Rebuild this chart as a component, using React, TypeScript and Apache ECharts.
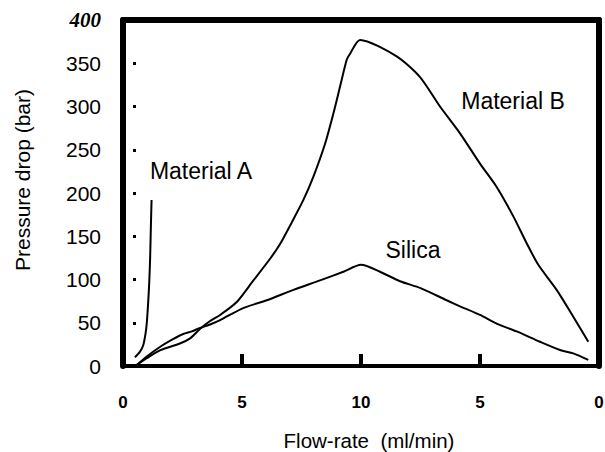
import React, { useEffect, useRef } from "react";
import * as echarts from "echarts";

const xTickValues = [0, 5, 10, 15, 20];
const xTickLabels = ["0", "5", "10", "5", "0"];
const xInnerTicks = [5, 10, 15];
const yTickLabels = ["0", "50", "100", "150", "200", "250", "300", "350", "400"];
const yInnerTicks = [50, 100, 150, 200, 250, 300, 350];

const materialA: [number, number][] = [
  [0.5, 10], [0.7, 16], [0.85, 24], [0.95, 38], [1.0, 50], [1.05, 70],
  [1.1, 95], [1.14, 125], [1.17, 160], [1.2, 192],
];

const materialB: [number, number][] = [
  [0.57, 1], [1.0, 9], [1.55, 18], [2.39, 26], [2.82, 32], [3.24, 43],
  [3.66, 52], [4.08, 59], [4.78, 74], [5.48, 99], [6.18, 124], [6.6, 141],
  [7.09, 166], [7.58, 192], [8.0, 219], [8.49, 257], [8.84, 292],
  [9.12, 323], [9.4, 354], [9.54, 361], [9.96, 377], [11.5, 358],
  [12.48, 334], [13.32, 300], [14.16, 269], [15.0, 234], [15.7, 207],
  [16.4, 173], [16.96, 142], [17.45, 117], [18.22, 88], [18.92, 57], [19.55, 28],
];

const silica: [number, number][] = [
  [0.57, 1], [1.0, 11], [1.55, 22], [2.1, 31], [2.53, 37], [2.89, 40],
  [3.24, 44], [3.66, 48], [4.08, 53], [5.05, 67], [6.04, 76], [7.16, 88],
  [8.28, 99], [9.26, 109], [10.0, 117], [10.8, 109], [11.64, 98], [12.5, 90],
  [13.6, 76], [14.16, 69], [15.0, 59], [15.7, 49], [16.54, 40], [17.52, 28],
  [18.36, 18.5], [18.92, 14.6], [19.55, 7],
];

const annotations = [
  { text: "Material A", x: 201, y: 171 },
  { text: "Material B", x: 513, y: 101 },
  { text: "Silica", x: 413, y: 250 },
];

const SANS = "'Liberation Sans', Arial, Helvetica, sans-serif";

export default function App() {
  const ref = useRef<HTMLDivElement>(null);
  useEffect(() => {
    if (!ref.current) return;
    const chart = echarts.init(ref.current, undefined, { renderer: "svg" });
    const lineSeries = (name: string, data: [number, number][]) => ({
      name,
      type: "line",
      xAxisIndex: 0,
      yAxisIndex: 0,
      data,
      showSymbol: false,
      smooth: 0.25,
      lineStyle: { color: "#000", width: 2 },
      itemStyle: { color: "#000" },
    });
    const hiddenAxis = {
      type: "value",
      axisTick: { show: false },
      axisLabel: { show: false },
      splitLine: { show: false },
    };
    chart.setOption({
      animation: false,
      backgroundColor: "#fff",
      grid: { left: 123, top: 20, right: 6, bottom: 86, containLabel: false, outerBoundsMode: "none" },
      xAxis: [
        {
          type: "value",
          position: "bottom",
          min: 0,
          max: 20,
          interval: 5,
          axisLine: { show: true, onZero: false, lineStyle: { color: "#000", width: 4 } },
          axisTick: { show: false },
          axisLabel: {
            show: true,
            showMinLabel: true,
            showMaxLabel: true,
            margin: 28,
            color: "#000",
            fontSize: 17,
            fontWeight: "bold",
            fontFamily: SANS,
            formatter: (v: number) => {
              const i = xTickValues.indexOf(v);
              return i >= 0 ? xTickLabels[i] : "";
            },
          },
          splitLine: { show: false },
          name: "Flow-rate  (ml/min)",
          nameLocation: "middle",
          nameGap: 64,
          nameTextStyle: {
            color: "#000",
            fontSize: 20.5,
            lineHeight: 20,
            fontFamily: SANS,
            padding: [0, 0, 0, 16],
          },
        },
        {
          ...hiddenAxis,
          position: "top",
          min: 0,
          max: 20,
          axisLine: { show: true, onZero: false, lineStyle: { color: "#000", width: 6 } },
        },
        {
          ...hiddenAxis,
          position: "bottom",
          min: 0,
          max: 20,
          interval: 5,
          axisLine: { show: false, onZero: false },
          axisTick: {
            show: true,
            inside: true,
            length: 12,
            customValues: xInnerTicks,
            lineStyle: { color: "#000", width: 4 },
          },
        },
      ],
      yAxis: [
        {
          type: "value",
          position: "left",
          min: 0,
          max: 400,
          interval: 50,
          axisLine: { show: true, onZero: false, lineStyle: { color: "#000", width: 6 } },
          axisTick: { show: false },
          axisLabel: {
            show: true,
            margin: 22,
            color: "#000",
            fontSize: 21,
            fontFamily: SANS,
            formatter: (v: number) => {
              const s = yTickLabels[Math.round(v / 50)];
              return v === 400 ? "{b|" + s + "}" : s;
            },
            rich: {
              b: {
                fontFamily: "'Liberation Serif', 'DejaVu Serif', serif",
                fontStyle: "italic",
                fontWeight: "bold",
                fontSize: 21,
                color: "#000",
              },
            },
          },
          splitLine: { show: false },
          name: "Pressure drop (bar)",
          nameLocation: "middle",
          nameGap: 90,
          nameTextStyle: { color: "#000", fontSize: 21, fontFamily: SANS, padding: [0, 0, 0, 26] },
        },
        {
          ...hiddenAxis,
          position: "right",
          min: 0,
          max: 400,
          axisLine: { show: true, onZero: false, lineStyle: { color: "#000", width: 6 } },
        },
        {
          ...hiddenAxis,
          position: "left",
          offset: -10,
          min: 0,
          max: 400,
          interval: 50,
          axisLine: { show: false, onZero: false },
          axisTick: {
            show: true,
            inside: true,
            length: 3,
            customValues: yInnerTicks,
            lineStyle: { color: "#000", width: 3 },
          },
        },
      ],
      series: [
        lineSeries("Material A", materialA),
        lineSeries("Material B", materialB),
        lineSeries("Silica", silica),
      ],
      graphic: annotations.map((a) => ({
        type: "text",
        x: a.x,
        y: a.y,
        style: {
          text: a.text,
          fill: "#000",
          fontSize: 23,
          fontFamily: SANS,
          textAlign: "center",
          textVerticalAlign: "middle",
        },
      })),
    });
    return () => chart.dispose();
  }, []);
  return (
    <div
      ref={ref}
      style={{ position: "absolute", left: 0, top: 0, width: 605, height: 452 }}
    />
  );
}
